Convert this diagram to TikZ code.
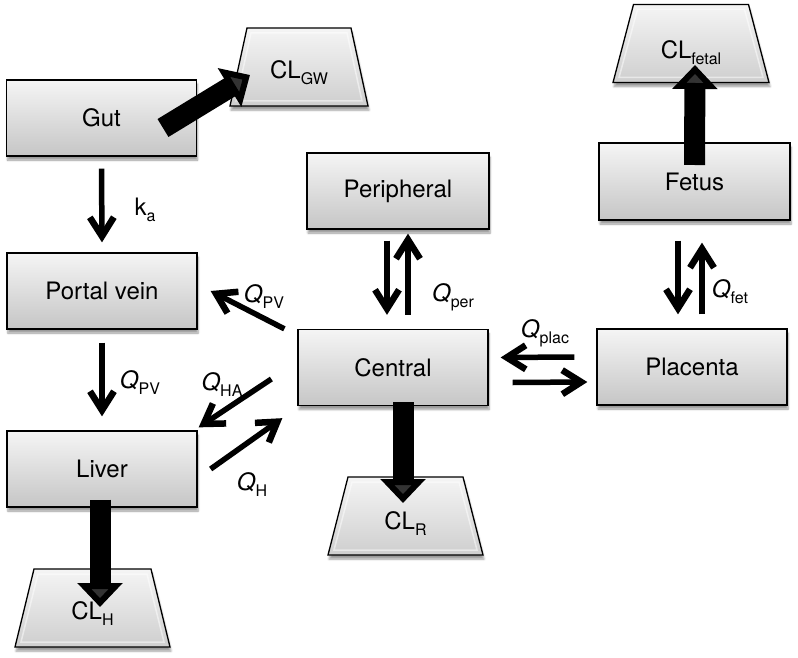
\documentclass[tikz,border=0pt]{standalone}
\usepackage{fontspec}
\setmainfont{TeX Gyre Heros}
\usetikzlibrary{arrows.meta,shadows.blur}

\newcommand{\lowidx}[1]{\raisebox{-6pt}{\fontsize{16}{18}\selectfont #1}}
\newcommand{\flow}[1]{\textit{Q}\lowidx{#1}}
% trapezoid outline: centre x, centre y, half top width, half bottom width
\newcommand{\sinkshape}[4]{%
  \path[sinkpath] (#1-#3,#2-39) -- (#1+#3,#2-39) -- (#1+#4,#2+39) -- (#1-#4,#2+39) -- cycle;
  \draw[bevel] (#1-#3+4,#2-34) -- (#1+#3-4,#2-34) -- (#1+#4-6,#2+34) -- (#1-#4+6,#2+34) -- cycle;}

\tikzset{
  comp/.style={draw=black, line width=1.3pt, rectangle, top color=gray!8, bottom color=gray!45,
    minimum width=190pt, minimum height=76pt, inner sep=0pt,
    blur shadow={shadow xshift=1pt, shadow yshift=-4pt, shadow blur steps=6}},
  sinkpath/.style={draw=black, line width=1.3pt, line join=miter, top color=gray!8, bottom color=gray!38,
    blur shadow={shadow xshift=1pt, shadow yshift=-4pt, shadow blur steps=6}},
  bevel/.style={white, opacity=0.5, line width=1.5pt},
  flux/.style={line width=5.5pt, -{Straight Barb[length=19pt,width=24pt,line width=6.5pt]}},
  elim/.style={line width=21pt, -{Triangle[length=24pt,width=44pt]}},
  lbl/.style={inner sep=0pt},
}

\begin{document}
\begin{tikzpicture}[x=1pt,y=-1pt,font=\fontsize{24}{28}\selectfont]
	\useasboundingbox (0,0) rectangle (798,658);
	% compartments
	\node[comp] (gut) at (101.5,118) {Gut};
	\node[comp] (portal) at (102,291) {Portal vein};
	\node[comp] (liver) at (102,469) {Liver};
	\node[comp] (central) at (393,367.5) {Central};
	\node[comp, minimum width=182pt] (peri) at (398,191) {Peripheral};
	\node[comp] (placenta) at (692,367) {Placenta};
	\node[comp, minimum width=191pt, minimum height=77pt] (fetus) at (694.5,181.5) {Fetus};
	% clearance
	\sinkshape{299}{67}{52}{69}
	\sinkshape{691}{43.5}{57.5}{78}
	\sinkshape{405.5}{516}{57.5}{77.5}
	\sinkshape{92.5}{608}{58.5}{77.5}
	\node[lbl] (clgw) at (299,73) {CL\lowidx{GW}};
	\node[lbl] (clfetal) at (691,53) {CL\lowidx{fetal}};
	\node[lbl] (clr) at (405.5,524) {CL\lowidx{R}};
	\node[lbl] (clh) at (92.5,614) {CL\lowidx{H}};
	% flows
	\draw[flux] ([yshift=-12pt]gut.south) -- ([yshift=10pt]portal.north);
	\draw[flux] ([yshift=-13pt]portal.south) -- ([yshift=14pt]liver.north);
	\draw[flux] ([xshift=-13pt]central.north west) -- ([xshift=13pt]portal.east);
	\draw[flux] ([xshift=-26pt,yshift=-11.5pt]central.west) -- ([xshift=1pt,yshift=3pt]liver.north east);
	\draw[flux] ([xshift=13pt]liver.east) -- ([xshift=-15pt,yshift=-12pt]central.south west);
	\draw[flux] ([xshift=-11pt,yshift=-11pt]peri.south) -- ([xshift=-6pt,yshift=14pt]central.north);
	\draw[flux] ([xshift=15pt,yshift=14pt]central.north) -- ([xshift=10pt,yshift=-4pt]peri.south);
	\draw[flux] ([xshift=-22pt,yshift=10pt]placenta.west) -- ([xshift=12pt,yshift=10pt]central.east);
	\draw[flux] ([xshift=24pt,yshift=-15pt]central.east) -- ([xshift=-9pt,yshift=-15pt]placenta.west);
	\draw[flux] ([xshift=-16.5pt,yshift=-20pt]fetus.south) -- ([xshift=-14pt,yshift=14pt]placenta.north);
	\draw[flux] ([xshift=10pt,yshift=14pt]placenta.north) -- ([xshift=7.5pt,yshift=-22pt]fetus.south);
	% elimination
	\draw[elim] ([xshift=61.5pt,yshift=-10pt]gut.center) -- ([xshift=-49pt,yshift=-2pt]clgw.center);
	\draw[elim] ([yshift=16.5pt]fetus.center) -- ([xshift=4pt,yshift=-12pt]clfetal.center);
	\draw[elim] ([xshift=10pt,yshift=4pt]central.south) -- ([xshift=-2.5pt,yshift=21pt]clr.center);
	\draw[elim] ([xshift=-2pt,yshift=8pt]liver.south) -- ([xshift=7.5pt,yshift=7pt]clh.center);
	% rate labels
	\node[lbl] (ka) at (145,210) {k\lowidx{a}};
	\node[lbl] (qpvlow) at (140,383) {\flow{PV}};
	\node[lbl] (qpvup) at (264,297) {\flow{PV}};
	\node[lbl] (qha) at (222,385) {\flow{HA}};
	\node[lbl] (qh) at (252,485) {\flow{H}};
	\node[lbl] (qper) at (453,297) {\flow{per}};
	\node[lbl] (qplac) at (545,333) {\flow{plac}};
	\node[lbl] (qfet) at (730,292) {\flow{fet}};
\end{tikzpicture}
\end{document}
